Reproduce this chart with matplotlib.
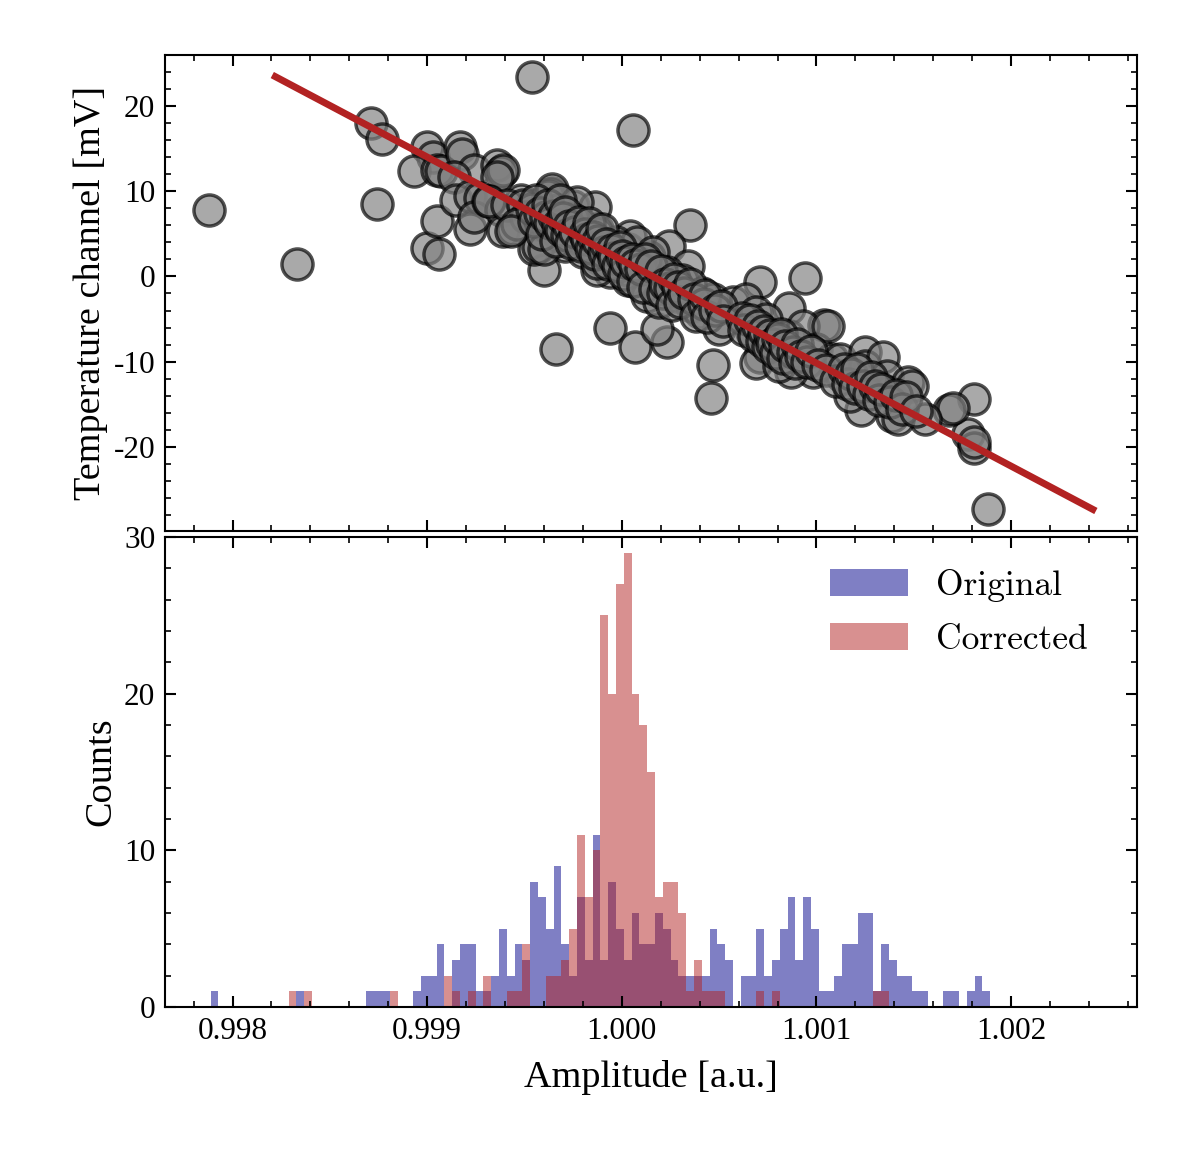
import matplotlib
matplotlib.use("Agg")
import matplotlib.pyplot as plt
from matplotlib.ticker import MultipleLocator, FormatStrFormatter
import numpy as np

plt.rcParams['font.family'] = ['Liberation Serif', 'DejaVu Serif']
plt.rcParams['axes.unicode_minus'] = False

# scatter: amplitude [a.u.] vs temperature channel [mV]
amplitude = [
    0.99788, 0.99833, 0.99871, 0.99877, 0.99874, 0.99954, 1.00006, 0.99900, 0.99906, 0.99905,
    0.99922, 0.99966, 0.99994, 1.00007, 1.00023, 1.00018, 1.00047, 1.00046, 1.00035, 1.00024,
    1.00034, 1.00071, 1.00094, 1.00086, 1.00104, 1.00188, 1.00181, 1.00178, 1.00181, 1.00168,
    1.00170, 1.00156, 0.99960,
    0.99900, 0.99903, 0.99893, 0.99905, 0.99907, 0.99917, 0.99918, 0.99924, 0.99914, 0.99936,
    0.99938, 0.99939, 0.99936, 0.99915, 0.99922, 0.99927, 0.99924, 0.99931, 0.99938, 0.99939,
    0.99944, 0.99948, 0.99954, 0.99964, 0.99965, 0.99955, 0.99957, 0.99966, 0.99975, 0.99986,
    0.99987, 0.99977, 0.99971, 0.99980, 0.99989, 0.99994, 0.99987, 1.00003, 1.00004, 1.00014,
    1.00016, 1.00003, 0.99932, 0.99941, 0.99949, 0.99951, 0.99946, 0.99957, 0.99963, 0.99960,
    0.99957, 0.99943,
    0.99962, 0.99964, 0.99967, 0.99977, 0.99975, 0.99962, 0.99968, 0.99960, 0.99979, 0.99987,
    0.99989, 0.99997, 1.00008, 0.99987, 1.00003, 1.00009, 1.00016, 1.00014, 1.00018, 1.00023,
    1.00031, 1.00013, 1.00019, 1.00028, 1.00036, 1.00041,
    1.00033, 1.00040, 1.00047, 1.00050, 1.00057, 1.00064, 1.00069, 1.00074, 1.00067, 1.00071,
    1.00069, 1.00081, 1.00086, 1.00093, 1.00100, 1.00098, 1.00087, 1.00081, 1.00108, 1.00113,
    1.00106, 1.00112, 1.00125, 1.00125, 1.00134, 1.00136, 1.00123, 1.00117, 1.00137, 1.00147,
    1.00149, 1.00139, 1.00142, 1.00181,
    0.99954, 0.99955, 0.99956, 0.99958, 0.99959, 0.99961, 0.99962, 0.99963, 0.99965, 0.99966,
    0.99967, 0.99968, 0.99969, 0.99970, 0.99971, 0.99972, 0.99973, 0.99974, 0.99976, 0.99978,
    0.99979, 0.99981, 0.99982, 0.99983, 0.99984, 0.99985, 0.99986, 0.99988, 0.99990, 0.99991,
    0.99992, 0.99993, 0.99995, 0.99996, 0.99998, 0.99999, 1.00000, 1.00001, 1.00002, 1.00005,
    1.00006, 1.00007, 1.00010, 1.00011, 1.00012,
    1.00015, 1.00017, 1.00020, 1.00021, 1.00022, 1.00025, 1.00026, 1.00027, 1.00029, 1.00030,
    1.00032, 1.00035, 1.00037, 1.00038, 1.00042, 1.00043, 1.00044, 1.00048, 1.00051, 1.00052,
    1.00062, 1.00063, 1.00066, 1.00068, 1.00070, 1.00072, 1.00073, 1.00075, 1.00076, 1.00077,
    1.00079, 1.00080, 1.00082, 1.00083, 1.00084, 1.00088, 1.00089, 1.00090, 1.00092, 1.00095,
    1.00097, 1.00101, 1.00105, 1.00110, 1.00114, 1.00116, 1.00118, 1.00120, 1.00121, 1.00124,
    1.00127, 1.00128, 1.00130, 1.00132, 1.00133, 1.00138, 1.00141, 1.00144, 1.00146, 1.00151,
]
temperature = [
    7.8, 1.4, 18.0, 16.1, 8.5, 23.4, 17.2, 3.3, 2.6, 6.5,
    5.5, -8.5, -6.1, -8.3, -7.7, -6.2, -10.4, -14.3, 6.0, 3.6,
    1.2, -0.7, -0.2, -3.7, -5.7, -27.3, -14.4, -18.5, -20.1, -15.6,
    -15.4, -16.7, 0.8,
    15.1, 14.0, 12.3, 12.5, 12.3, 15.2, 14.3, 12.5, 11.7, 13.1,
    12.2, 12.5, 11.7, 9.0, 9.4, 9.2, 7.0, 8.8, 7.8, 5.3,
    5.5, 9.0, 8.2, 9.8, 8.2, 3.2, 6.3, 5.5, 8.2, 8.1,
    5.5, 5.8, 3.5, 2.8, 2.0, 0.5, 0.8, 3.2, 4.7, 2.3,
    -0.7, -0.4, 8.8, 8.4, 8.4, 6.9, 6.1, 6.1, 9.6, 6.1,
    3.4, 5.3,
    9.4, 10.2, 7.8, 8.7, 6.7, 5.8, 4.7, 3.2, 4.3, 5.1,
    3.2, 4.0, 4.0, 1.6, 0.8, 1.6, 2.8, 0.0, -0.4, 0.5,
    -0.4, -2.3, -3.0, -2.3, -3.5, -1.9,
    -2.3, -4.2, -2.7, -6.2, -3.0, -2.7, -4.2, -5.0, -6.5, -9.4,
    -10.1, -8.5, -7.0, -5.8, -8.5, -11.2, -11.2, -10.5, -9.7, -11.7,
    -5.8, -9.7, -8.9, -10.5, -9.4, -11.7, -15.6, -14.0, -13.6, -12.4,
    -12.9, -16.4, -16.7, -19.4,
    7.9, 6.5, 8.9, 7.4, 5.0, 7.0, 8.4, 6.3, 7.1, 4.2,
    6.0, 8.9, 5.4, 6.8, 7.6, 4.9, 5.9, 3.9, 5.2, 6.4,
    3.6, 5.0, 4.4, 6.3, 3.3, 4.6, 2.6, 4.1, 5.6, 2.9,
    3.8, 1.4, 3.1, 2.2, 1.2, 3.4, 2.4, 0.3, 1.7, 2.0,
    -0.6, 1.3, 0.9, -1.2, 2.0,
    1.2, -1.5, 0.6, -2.0, -0.9, -1.4, -3.4, -0.3, -1.3, -3.0,
    -1.9, -0.9, -2.6, -4.6, -3.2, -2.2, -4.8, -3.9, -3.5, -5.2,
    -4.9, -6.3, -5.1, -7.0, -5.8, -7.6, -6.4, -8.3, -6.9, -7.9,
    -9.0, -7.3, -6.8, -9.6, -8.1, -8.9, -10.2, -7.9, -9.3, -10.0,
    -8.7, -10.4, -11.0, -12.2, -10.8, -12.6, -11.4, -13.1, -10.9, -12.9,
    -13.8, -11.8, -12.8, -14.5, -13.2, -14.7, -13.9, -15.5, -14.1, -15.8,
]

# linear fit line end points
fit_x = [0.99822, 1.00242]
fit_y = [23.4, -27.3]

# histogram: 100 bins between min and max amplitude
hist_min, hist_max = 0.997887, 1.001893
counts_original = [
    1, 0, 0, 0, 0, 0, 0, 0, 0, 0,
    0, 1, 0, 0, 0, 0, 0, 0, 0, 0,
    1, 1, 1, 0, 0, 0, 1, 2, 2, 4,
    0, 3, 4, 4, 1, 1, 2, 5, 2, 4,
    3, 8, 7, 5, 9, 4, 2, 7, 3, 11,
    3, 8, 5, 3, 6, 4, 4, 6, 5, 3,
    2, 2, 2, 2, 5, 4, 3, 0, 2, 2,
    5, 2, 3, 5, 7, 3, 7, 5, 1, 1,
    2, 4, 4, 6, 6, 1, 4, 3, 2, 2,
    1, 1, 0, 0, 1, 1, 0, 1, 2, 1,
]
counts_corrected = [
    0, 0, 0, 0, 0, 0, 0, 0, 0, 0,
    1, 0, 1, 0, 0, 0, 0, 0, 0, 0,
    0, 0, 0, 1, 0, 0, 0, 0, 0, 0,
    2, 1, 0, 1, 0, 2, 0, 0, 1, 1,
    4, 0, 0, 2, 2, 3, 5, 11, 7, 10,
    25, 20, 27, 29, 20, 18, 15, 7, 8, 8,
    6, 1, 3, 1, 1, 1, 0, 0, 0, 0,
    1, 0, 1, 0, 0, 0, 0, 0, 0, 0,
    0, 0, 0, 0, 0, 1, 1, 0, 0, 0,
    0, 0, 0, 0, 0, 0, 0, 0, 0, 0,
]

edges = np.linspace(hist_min, hist_max, len(counts_original) + 1)
centers = 0.5 * (edges[:-1] + edges[1:])

fig = plt.figure(figsize=(12, 11.73), dpi=100)
ax1 = fig.add_axes([0.1375, 0.5473, 0.81, 0.4058])
ax2 = fig.add_axes([0.1375, 0.1415, 0.81, 0.4007], sharex=ax1)

# top panel: scatter + fit
ax1.scatter(amplitude, temperature, s=500, c='grey', edgecolors='black',
            linewidths=2.5, alpha=0.68, zorder=2)
ax1.plot(fit_x, fit_y, color='firebrick', lw=5, zorder=3)
ax1.set_ylabel('Temperature channel [mV]', fontsize=27.5)
ax1.yaxis.set_major_locator(MultipleLocator(10))
ax1.yaxis.set_minor_locator(MultipleLocator(2))
ax1.tick_params(labelbottom=False)

# bottom panel: histograms
ax2.hist(centers, bins=edges, weights=counts_original, color='darkblue',
         alpha=0.5, label='Original')
ax2.hist(centers, bins=edges, weights=counts_corrected, color='firebrick',
         alpha=0.5, label='Corrected')
ax2.set_ylim(0, 30)
ax2.set_ylabel('Counts', fontsize=27.5)
ax2.set_xlabel('Amplitude [a.u.]', fontsize=27.5, labelpad=10)
ax2.yaxis.set_major_locator(MultipleLocator(10))
ax2.yaxis.set_minor_locator(MultipleLocator(2))
ax2.xaxis.set_major_locator(MultipleLocator(0.001))
ax2.xaxis.set_minor_locator(MultipleLocator(0.0002))
ax2.xaxis.set_major_formatter(FormatStrFormatter('%.3f'))
ax2.legend(loc='upper right', bbox_to_anchor=(0.982, 1.0), frameon=False,
           prop={'family': 'cmr10', 'size': 25.5},
           handlelength=2.2, handleheight=0.8, labelspacing=0.6)

for ax in (ax1, ax2):
    ax.tick_params(which='both', direction='in', top=True, right=True, labelsize=22.5, pad=7)
    ax.tick_params(which='major', length=8, width=1.5)
    ax.tick_params(which='minor', length=4, width=1.2)
    for sp in ax.spines.values():
        sp.set_linewidth(1.5)

fig.align_ylabels([ax1, ax2])
fig.savefig('out.png', dpi=100)
